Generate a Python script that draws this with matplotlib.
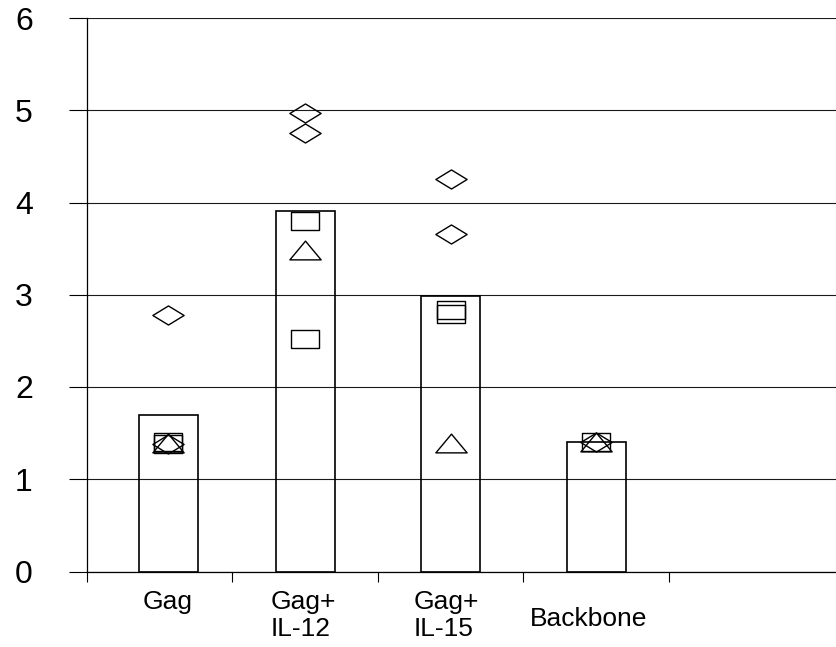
import numpy as np
import matplotlib.pyplot as plt
from matplotlib.path import Path

plt.rcParams['font.family'] = ['Liberation Sans', 'DejaVu Sans']

groups = ['Gag', 'Gag+\nIL-12', 'Gag+\nIL-15', 'Backbone']
bar_means = [1.70, 3.91, 2.99, 1.40]

# individual animals per group, one list per marker
diamonds = [[2.78, 1.38], [4.97, 4.75], [4.25, 3.66], [1.40]]
squares = [[1.40, 1.38], [3.80, 2.52], [2.84, 2.79], [1.40]]
triangles = [[1.39], [3.48], [1.39], [1.40]]

# small shifts to sit like the original layout
bar_shift = np.array([0.06, 0.0, 0.0, 0.0])
label_shift = np.array([0.057, -0.01, -0.03, -0.05])

rect_m = Path([(-1, -0.6), (1, -0.6), (1, 0.6), (-1, 0.6), (-1, -0.6)],
              [Path.MOVETO, Path.LINETO, Path.LINETO, Path.LINETO, Path.CLOSEPOLY])
diam_m = Path([(-1, 0), (0, 0.61), (1, 0), (0, -0.61), (-1, 0)],
              [Path.MOVETO, Path.LINETO, Path.LINETO, Path.LINETO, Path.CLOSEPOLY])
tri_m = Path([(-1, -0.6), (0, 0.6), (1, -0.6), (-1, -0.6)],
             [Path.MOVETO, Path.LINETO, Path.LINETO, Path.CLOSEPOLY])

fig = plt.figure(figsize=(8.37, 6.47), dpi=100)
ax = fig.add_axes([87 / 837, 75.5 / 647, 750 / 837, 553.5 / 647])

x = np.arange(len(groups)) + bar_shift
ax.bar(x, bar_means, width=0.405, facecolor='none', edgecolor='black',
       linewidth=1.2, zorder=3)

for vals, m, ms in [(diamonds, diam_m, 22.5), (squares, rect_m, 20.5),
                    (triangles, tri_m, 22.5)]:
    for i, v in enumerate(vals):
        ax.plot([x[i]] * len(v), v, linestyle='none', marker=m, markersize=ms,
                markerfacecolor='none', markeredgecolor='black',
                markeredgewidth=1.0, zorder=4)

ax.set_ylim(0, 6)
ax.set_xlim(-0.5, 750 / 145.5 - 0.5)
ax.set_yticks(range(0, 7))
ax.yaxis.grid(True, color='0.1', linewidth=0.8, zorder=1)
ax.set_axisbelow(True)
ax.tick_params(axis='y', length=13, width=0.8, pad=26, labelsize=23)

ax.set_xticks(np.arange(-0.5, 4, 1.0))
ax.set_xticklabels([])
ax.tick_params(axis='x', which='major', length=7, width=0.8)
ax.set_xticks(np.arange(len(groups)) + label_shift, minor=True)
ax.set_xticklabels(groups, minor=True, fontsize=19, multialignment='left')
ax.tick_params(axis='x', which='minor', length=0, pad=13)
# single-line label sits lower, between the two lines of its neighbours
ax.get_xticklabels(minor=True)[3].set_y(-0.031)

for s in ['top', 'right']:
    ax.spines[s].set_visible(False)
ax.spines['left'].set_linewidth(0.9)
ax.spines['bottom'].set_linewidth(0.9)

fig.savefig('out.png', dpi=100)
